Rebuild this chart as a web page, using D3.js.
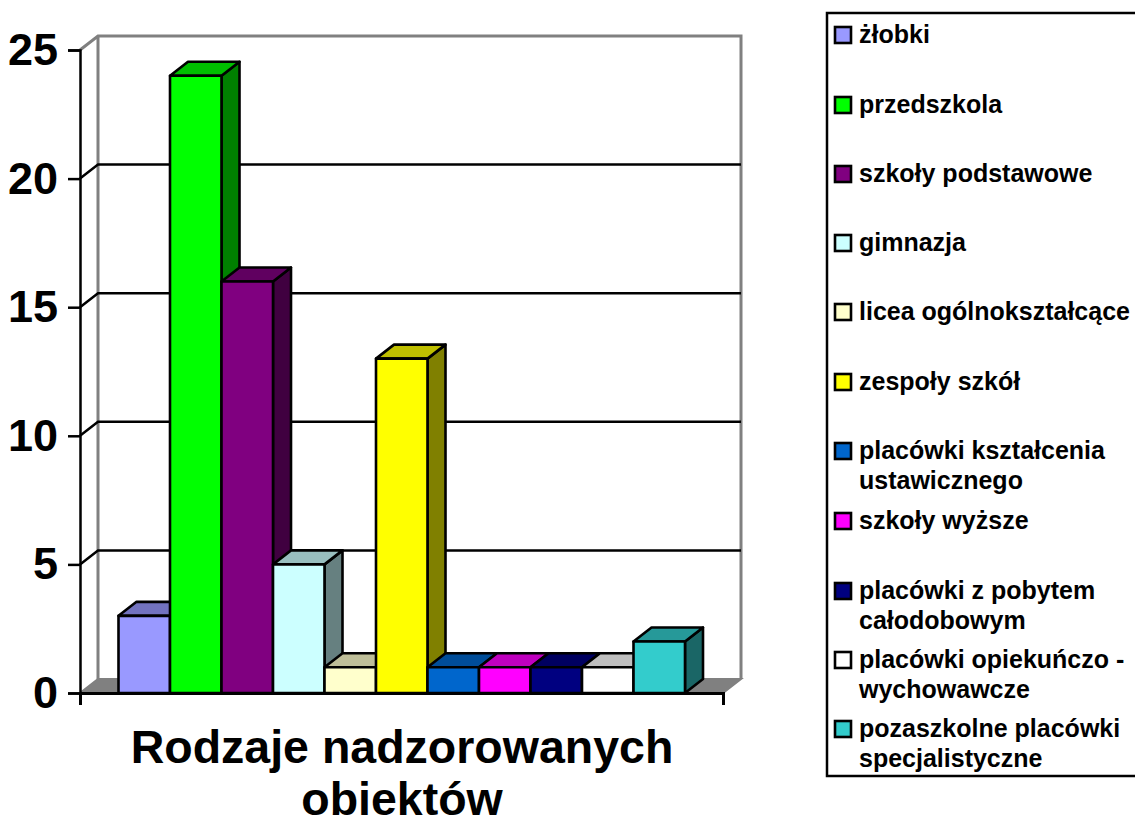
<!DOCTYPE html>
<html>
<head>
<meta charset="utf-8">
<script src="https://cdn.jsdelivr.net/npm/d3@7"></script>
<style>
html, body { margin: 0; padding: 0; background: #fff; overflow: hidden; }
svg { display: block; font-family: "Liberation Sans", Arial, sans-serif; font-weight: bold; }
</style>
</head>
<body>
<script>
var categories = ["żłobki", "przedszkola", "szkoły podstawowe", "gimnazja", "licea ogólnokształcące", "zespoły szkół", "placówki kształcenia|ustawicznego", "szkoły wyższe", "placówki z pobytem|całodobowym", "placówki opiekuńczo -|wychowawcze", "pozaszkolne placówki|specjalistyczne"];
var values = [3, 24, 16, 5, 1, 13, 1, 1, 1, 1, 2];
var colors = ["#9999ff", "#00ff00", "#800080", "#ccffff", "#ffffcc", "#ffff00", "#0066cc", "#ff00ff", "#000080", "#ffffff", "#33cccc"];
var yTicks = [0, 5, 10, 15, 20, 25];
var titleLines = ["Rodzaje nadzorowanych", "obiektów"];
var legendY = [35, 105, 174, 243, 312, 382, 451, 521, 591, 660, 729];

var width = 1135, height = 821;
var plotLeft = 80, plotRight = 723, plotBottom = 693, plotTop = 50;
var dx = 18, dy = -14;

var svg = d3.select("body").append("svg").attr("width", width).attr("height", height);

var x = d3.scaleBand().domain(categories).range([118.5, 685]);
var y = d3.scaleLinear().domain([0, 25]).range([plotBottom, plotTop]);

function pts(a) { return a.map(function(p){ return p.join(","); }).join(" "); }
function shade(col, k) { var c = d3.rgb(col); return d3.rgb(c.r*k, c.g*k, c.b*k).formatHex(); }

// floor
svg.append("polygon")
.attr("points", pts([[plotLeft, plotBottom], [plotLeft+dx, plotBottom+dy], [plotRight+dx, plotBottom+dy], [plotRight, plotBottom]]))
.attr("fill", "#808080").attr("stroke", "#808080").attr("stroke-width", 2);

// walls
svg.append("path")
.attr("d", "M"+plotLeft+","+plotTop+"L"+(plotLeft+dx)+","+(plotTop+dy)+"L"+(plotRight+dx)+","+(plotTop+dy)+"L"+(plotRight+dx)+","+(plotBottom+dy)
  +"M"+(plotLeft+dx)+","+(plotTop+dy)+"L"+(plotLeft+dx)+","+(plotBottom+dy))
.attr("fill", "none").attr("stroke", "#808080").attr("stroke-width", 3);

// gridlines
svg.selectAll("path.grid")
.data(yTicks.filter(function(d){ return d > 0 && d < 25; }))
.enter().append("path")
.attr("class", "grid")
.attr("d", function(d){ return "M"+plotLeft+","+y(d)+"L"+(plotLeft+dx)+","+(y(d)+dy)+"L"+(plotRight+dx)+","+(y(d)+dy); })
.attr("fill", "none").attr("stroke", "#000").attr("stroke-width", 2.5);

// bars, left to right so each one covers the previous side face
var bars = svg.selectAll("g.bar")
.data(categories)
.enter().append("g")
.attr("class", "bar")
.attr("stroke", "#000").attr("stroke-width", 2.6).attr("stroke-linejoin", "round");

bars.append("polygon")
.attr("points", function(d, i){
  var x1 = x(d) + x.bandwidth(), t = y(values[i]);
  return pts([[x1, plotBottom], [x1+dx, plotBottom+dy], [x1+dx, t+dy], [x1, t]]);
})
.attr("fill", function(d, i){ return shade(colors[i], 0.5); });

bars.append("polygon")
.attr("points", function(d, i){
  var x0 = x(d), x1 = x0 + x.bandwidth(), t = y(values[i]);
  return pts([[x0, t], [x0+dx, t+dy], [x1+dx, t+dy], [x1, t]]);
})
.attr("fill", function(d, i){ return shade(colors[i], 0.75); });

bars.append("rect")
.attr("x", function(d){ return x(d); })
.attr("y", function(d, i){ return y(values[i]); })
.attr("width", x.bandwidth())
.attr("height", function(d, i){ return plotBottom - y(values[i]); })
.attr("fill", function(d, i){ return colors[i]; });

// y axis
var yAxis = svg.append("g")
.attr("transform", "translate("+plotLeft+",0)")
.call(d3.axisLeft(y).tickValues(yTicks).tickSize(12).tickPadding(10));
yAxis.selectAll("path, line").attr("stroke", "#000").attr("stroke-width", 2.5);
yAxis.selectAll("text").attr("font-size", 45).attr("font-family", "Liberation Sans").attr("font-weight", "bold").attr("fill", "#000");

// x axis, ticks only at both ends
var xEnds = d3.scaleLinear().domain([0, 1]).range([plotLeft, plotRight]);
var xAxis = svg.append("g")
.attr("transform", "translate(0,"+plotBottom+")")
.call(d3.axisBottom(xEnds).tickValues([0, 1]).tickSize(12).tickFormat(""));
xAxis.selectAll("path, line").attr("stroke", "#000");
xAxis.selectAll("line").attr("stroke-width", 2.5);
xAxis.select("path").attr("stroke-width", 3);

// axis title
svg.selectAll("text.title")
.data(titleLines)
.enter().append("text")
.attr("class", "title")
.attr("x", 402)
.attr("y", function(d, i){ return 763 + i*52; })
.attr("text-anchor", "middle")
.attr("font-size", 46.5)
.text(function(d){ return d; });

// legend
svg.append("rect")
.attr("x", 827).attr("y", 13).attr("width", 330).attr("height", 763)
.attr("fill", "#fff").attr("stroke", "#000").attr("stroke-width", 2.5);

var legend = svg.selectAll("g.legend")
.data(categories)
.enter().append("g")
.attr("class", "legend")
.attr("transform", function(d, i){ return "translate(0,"+legendY[i]+")"; });

legend.append("rect")
.attr("x", 835).attr("y", -8).attr("width", 16).attr("height", 16)
.attr("fill", function(d, i){ return colors[i]; })
.attr("stroke", "#000").attr("stroke-width", 2.6);

legend.append("text").selectAll("tspan")
.data(function(d){ return d.split("|"); })
.enter().append("tspan")
.attr("x", 859)
.attr("y", function(d, i){ return 8 + i*30; })
.attr("font-size", 25)
.text(function(d){ return d; });
</script>
</body>
</html>
